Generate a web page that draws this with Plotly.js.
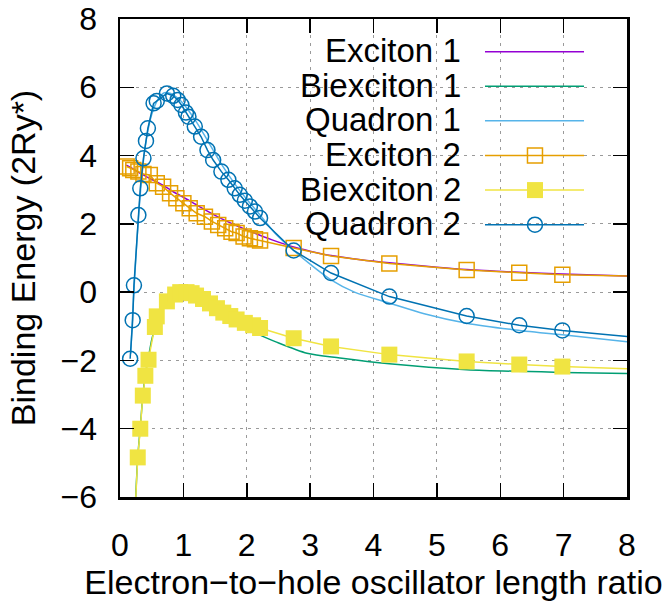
<!DOCTYPE html>
<html>
<head>
<meta charset="utf-8">
<script src="https://cdn.plot.ly/plotly-3.0.1.min.js"></script>
<style>
  html, body { margin: 0; padding: 0; background: #ffffff; }
  #chart { width: 668px; height: 610px; }
</style>
</head>
<body>
<div id="chart"></div>
<script>
// ---- Model 1: smooth curves -------------------------------------------
const xExciton1 = [0.1, 0.2, 0.3, 0.45, 0.66, 0.84, 1.0, 1.24, 1.5, 1.75, 2.03, 2.4, 2.74, 3.0, 3.33, 3.8, 4.25, 5.0, 5.47, 6.3, 6.98, 8.0];
const exciton1  = [3.72, 3.62, 3.5, 3.35, 3.15, 2.94, 2.78, 2.52, 2.25, 2.02, 1.8, 1.53, 1.32, 1.2, 1.07, 0.95, 0.86, 0.73, 0.66, 0.58, 0.53, 0.47];

const xBiexciton1 = [0.23, 0.28, 0.32, 0.36, 0.4, 0.45, 0.5, 0.55, 0.6, 0.68, 0.75, 0.85, 0.95, 1.05, 1.15, 1.3, 1.5, 1.75, 2.0, 2.21, 2.45, 2.95, 3.47, 4.25, 5.47, 6.98, 8.0];
const biexciton1  = [-6.7, -4.85, -3.95, -3.05, -2.4, -1.9, -1.4, -1.05, -0.72, -0.42, -0.25, -0.08, 0.0, 0.0, -0.06, -0.2, -0.45, -0.78, -1.08, -1.26, -1.45, -1.79, -1.93, -2.1, -2.27, -2.35, -2.38];

const xQuadron1 = [0.17, 0.2, 0.25, 0.3, 0.35, 0.4, 0.5, 0.6, 0.7, 0.8, 0.9, 1.0, 1.2, 1.4, 1.6, 1.8, 2.0, 2.2, 2.45, 2.74, 3.0, 3.33, 3.7, 4.25, 4.8, 5.47, 6.2, 6.98, 8.0];
const quadron1  = [-1.8, -0.6, 1.0, 2.4, 3.5, 4.3, 5.2, 5.65, 5.84, 5.82, 5.7, 5.52, 5.0, 4.38, 3.75, 3.2, 2.72, 2.28, 1.72, 1.22, 0.82, 0.36, 0.0, -0.32, -0.63, -0.91, -1.1, -1.25, -1.45];

// ---- Model 2: computed points ------------------------------------------
const xExciton2 = [0.105, 0.16, 0.21, 0.29, 0.37, 0.47, 0.58, 0.68, 0.79, 0.89, 1.0, 1.1, 1.21, 1.34, 1.45, 1.55, 1.66, 1.76, 1.84, 1.95, 2.05, 2.13, 2.21, 2.74, 3.33, 4.25, 5.47, 6.3, 6.98, 9.5];
const exciton2  = [3.68, 3.63, 3.58, 3.53, 3.46, 3.43, 3.19, 3.09, 2.9, 2.75, 2.6, 2.46, 2.31, 2.21, 2.07, 1.97, 1.87, 1.77, 1.73, 1.63, 1.58, 1.55, 1.51, 1.29, 1.06, 0.84, 0.65, 0.57, 0.51, 0.41];

const xBiexciton2 = [0.22, 0.28, 0.32, 0.36, 0.4, 0.45, 0.55, 0.58, 0.74, 0.87, 0.95, 1.05, 1.13, 1.2, 1.31, 1.42, 1.53, 1.63, 1.74, 1.84, 1.97, 2.1, 2.21, 2.74, 3.33, 4.25, 5.47, 6.3, 6.98, 9.5];
const biexciton2  = [-7.1, -4.84, -4.0, -3.03, -2.45, -1.98, -1.02, -0.71, -0.27, -0.07, 0.0, 0.0, -0.03, -0.1, -0.2, -0.33, -0.47, -0.6, -0.7, -0.8, -0.9, -0.97, -1.05, -1.35, -1.59, -1.83, -2.03, -2.12, -2.18, -2.33];

const xQuadron2 = [0.16, 0.2, 0.22, 0.29, 0.32, 0.37, 0.41, 0.44, 0.53, 0.58, 0.74, 0.84, 0.91, 0.97, 1.04, 1.08, 1.18, 1.28, 1.38, 1.47, 1.6, 1.71, 1.81, 1.89, 1.97, 2.05, 2.13, 2.21, 2.74, 3.33, 4.25, 5.47, 6.3, 6.98, 9.5];
const quadron2  = [-1.95, -0.82, 0.2, 2.26, 3.04, 3.92, 4.43, 4.8, 5.53, 5.6, 5.82, 5.75, 5.63, 5.48, 5.26, 5.14, 4.85, 4.55, 4.16, 3.87, 3.53, 3.29, 3.04, 2.85, 2.68, 2.51, 2.36, 2.17, 1.22, 0.56, -0.13, -0.7, -0.97, -1.12, -1.56];

// ---- Axes -----------------------------------------------------------------
const xTicks = [0, 1, 2, 3, 4, 5, 6, 7, 8];
const yTicks = [-6, -4, -2, 0, 2, 4, 6, 8];
const xLabel = 'Electron\u2212to\u2212hole oscillator length ratio';
const yLabel = 'Binding Energy (2Ry*)';

// ---- Key entries ----------------------------------------------------------
const seriesNames = ['Exciton 1', 'Biexciton 1', 'Quadron 1', 'Exciton 2', 'Biexciton 2', 'Quadron 2'];
const COLORS = ['#9400D3', '#009E73', '#56B4E9', '#E69F00', '#F0E442', '#0072B2'];
const SYMBOLS = [null, null, null, 'square-open', 'square', 'circle-open'];

const FONT = '"Liberation Sans", Arial, Helvetica, sans-serif';
const LW = 1.5;

function markerFor(i) {
  if (i === 4) return { symbol: 'square', size: 16, color: COLORS[i], line: { width: 0 } };
  return { symbol: SYMBOLS[i], size: 15, color: COLORS[i], line: { width: 1.5, color: COLORS[i] } };
}

const curveX = [xExciton1, xBiexciton1, xQuadron1, xExciton2, xBiexciton2, xQuadron2];
const curveY = [exciton1, biexciton1, quadron1, exciton2, biexciton2, quadron2];

const traces = [];
for (let i = 0; i < 6; i++) {
  const pts = i >= 3;
  const tr = {
    type: 'scatter',
    x: curveX[i],
    y: curveY[i],
    name: seriesNames[i],
    mode: pts ? 'lines+markers' : 'lines',
    line: pts ? { color: COLORS[i], width: LW } : { color: COLORS[i], width: LW, shape: 'spline', smoothing: 0.8 },
    showlegend: false,
    hoverinfo: 'skip'
  };
  if (pts) tr.marker = markerFor(i);
  traces.push(tr);
}

// Key drawn in the upper right: right-aligned names, sample line on the right
const keyTextX = 0.6765;
const keyLine = [0.7199, 0.9152];
const keyMid = 0.8185;
const keyTop = 0.9317;
const keyStep = 0.0724;
const annotations = [];
for (let i = 0; i < 6; i++) {
  const ky = keyTop - i * keyStep;
  traces.push({
    type: 'scatter', xaxis: 'x2', yaxis: 'y2',
    x: keyLine, y: [ky, ky], mode: 'lines',
    line: { color: COLORS[i], width: LW },
    showlegend: false, hoverinfo: 'skip', cliponaxis: false
  });
  if (i >= 3) {
    traces.push({
      type: 'scatter', xaxis: 'x2', yaxis: 'y2',
      x: [keyMid], y: [ky], mode: 'markers',
      marker: markerFor(i),
      showlegend: false, hoverinfo: 'skip', cliponaxis: false
    });
  }
  annotations.push({
    xref: 'paper', yref: 'paper', x: keyTextX, y: ky,
    xanchor: 'right', yanchor: 'middle', showarrow: false,
    text: seriesNames[i], yshift: 1,
    font: { family: FONT, size: 33, color: '#000000' }
  });
}

const axisCommon = {
  showline: true, linecolor: '#000000', linewidth: 2.5, mirror: 'ticks',
  ticks: 'inside', ticklen: 14, tickwidth: 1.5, tickcolor: '#000000',
  showgrid: true, gridcolor: '#9a9a9a', gridwidth: 1, griddash: '3px,5px',
  zeroline: false,
  tickfont: { family: FONT, size: 32, color: '#000000' }
};

const layout = {
  width: 668, height: 610,
  margin: { l: 120, r: 41, t: 19, b: 113, pad: 0 },
  paper_bgcolor: '#ffffff', plot_bgcolor: '#ffffff',
  showlegend: false,
  xaxis: Object.assign({}, axisCommon, {
    range: [0, 8], tickmode: 'array', tickvals: xTicks, ticktext: xTicks.map(String),
    ticklabelstandoff: 18,
    title: { text: xLabel, font: { family: FONT, size: 34, color: '#000000' }, standoff: 9 }
  }),
  yaxis: Object.assign({}, axisCommon, {
    range: [-6, 8], tickmode: 'array', tickvals: yTicks,
    ticktext: yTicks.map(v => (v < 0 ? '\u2212' + Math.abs(v) : String(v))),
    ticklabelstandoff: 14,
    title: { text: yLabel, font: { family: FONT, size: 34, color: '#000000' }, standoff: 15 }
  }),
  xaxis2: { overlaying: 'x', range: [0, 1], visible: false, fixedrange: true },
  yaxis2: { overlaying: 'y', range: [0, 1], visible: false, fixedrange: true },
  annotations: annotations
};

Plotly.newPlot('chart', traces, layout, { displayModeBar: false, staticPlot: true });
</script>
</body>
</html>
